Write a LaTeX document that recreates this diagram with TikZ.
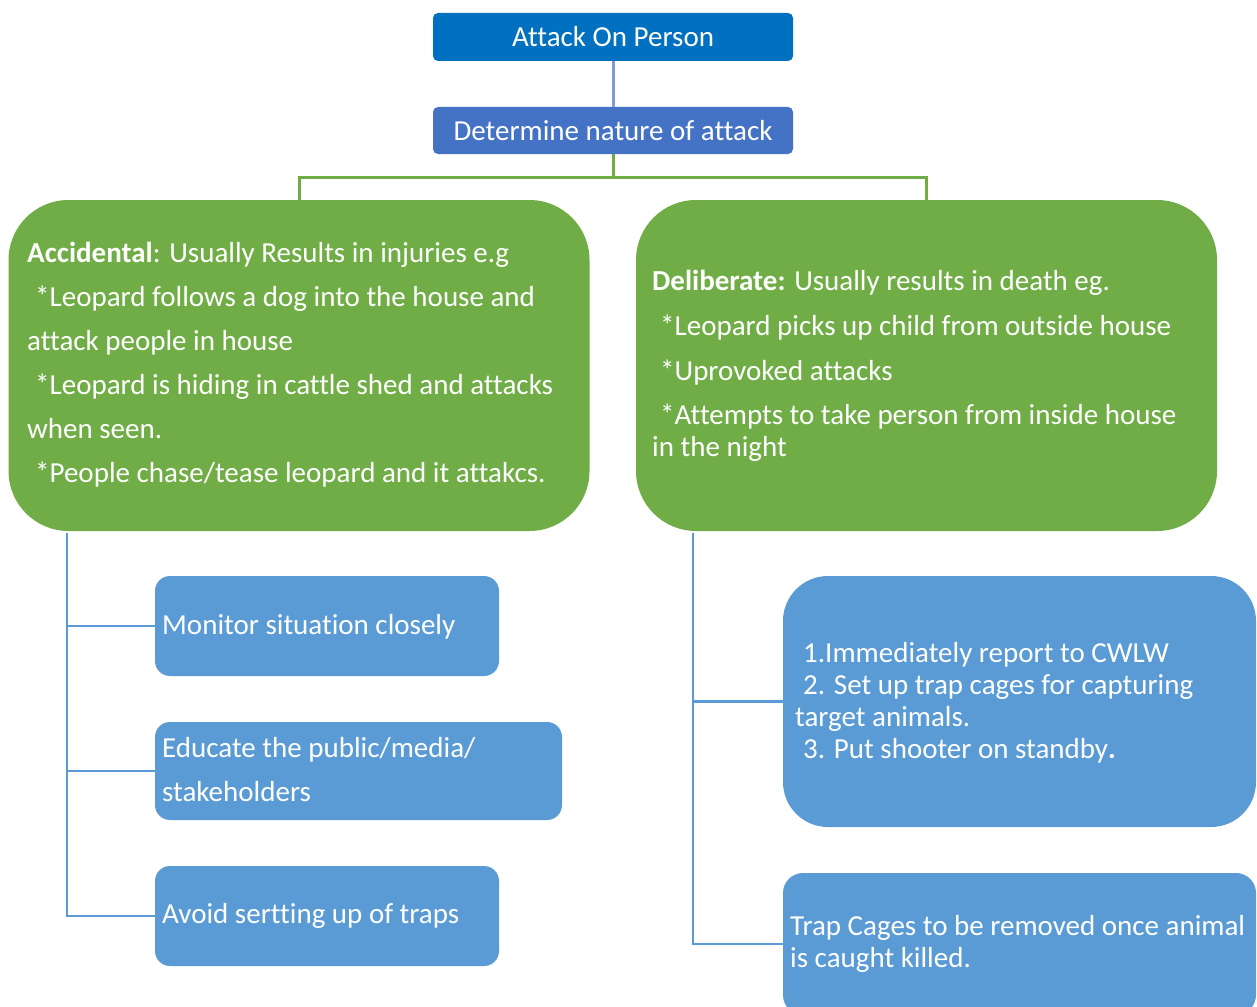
\documentclass[tikz,border=0pt]{standalone}
\usepackage{fontspec}
\setmainfont{Carlito}[Ligatures={NoCommon}]
\definecolor{topblue}{HTML}{0070C0}
\definecolor{detblue}{HTML}{4472C4}
\definecolor{lineblue}{HTML}{7F9BD8}
\definecolor{leafgreen}{HTML}{70AD47}
\definecolor{skyblue}{HTML}{5B9BD5}
\begin{document}
\begin{tikzpicture}[x=1pt,y=-1pt,
  box/.style={draw=none,inner sep=0pt,text=white,font=\fontsize{29}{34}\selectfont},
  topbox/.style={box,fill=topblue,rounded corners=5pt,minimum width=360pt,minimum height=48pt},
  detbox/.style={box,fill=detblue,rounded corners=5pt,minimum width=360pt,minimum height=47pt},
  greenbox/.style={box,fill=leafgreen,rounded corners=60pt,minimum width=581pt,minimum height=331pt},
  bluebox/.style={box,fill=skyblue,rounded corners=15pt},
  txt/.style={inner sep=0pt,text=white,font=\fontsize{29}{34}\selectfont,anchor=base west},
  gline/.style={draw=leafgreen,line width=3pt},
  bline/.style={draw=skyblue,line width=2.5pt},
]
\useasboundingbox (0,0) rectangle (1257,1006);
\fill[white] (0,0) rectangle (1257,1006);

% top boxes
\node[topbox] (top) at (613,37) {Attack On Person};
\node[detbox] (det) at (613,130.5) {Determine nature of attack};
\draw[draw=lineblue,line width=3pt] (top.south) -- (det.north);

% green boxes
\node[greenbox] (acc) at (299,365.5) {};
\node[greenbox] (del) at (926.5,365.5) {};
\coordinate (gj) at (613,177);
\draw[gline] (det.south) -- (gj) -| (acc.north);
\draw[gline] (gj) -| (del.north);

\node[txt] (acc1) at (27,262) {\textbf{Accidental}: Usually Results in injuries e.g};
\node[txt] (acc2) at (35,306) {*Leopard follows a dog into the house and};
\node[txt] (acc3) at (27,350) {attack people in house};
\node[txt] (acc4) at (35,394) {*Leopard is hiding in cattle shed and attacks};
\node[txt] (acc5) at (27,438) {when seen.};
\node[txt] (acc6) at (35,482) {*People chase/tease leopard and it attakcs.};

\node[txt] (del1) at (652,290) {\textbf{Deliberate:} Usually results in death eg.};
\node[txt] (del2) at (660,335) {*Leopard picks up child from outside house};
\node[txt] (del3) at (660,380) {*Uprovoked attacks};
\node[txt] (del4) at (660,424) {*Attempts to take person from inside house};
\node[txt] (del5) at (652,456) {in the night};

% left blue boxes
\node[bluebox,minimum width=344pt,minimum height=100pt] (mon) at (327,626) {};
\node[bluebox,minimum width=407pt,minimum height=98pt] (edu) at (358.5,771) {};
\node[bluebox,minimum width=344pt,minimum height=100pt] (avo) at (327,916) {};
\node[txt] (mon1) at (162,634) {Monitor situation closely};
\node[txt] (edu1) at (162,757) {Educate the public/media/};
\node[txt] (edu2) at (162,801) {stakeholders};
\node[txt] (avo1) at (162,923) {Avoid sertting up of traps};

\coordinate (lt) at (67,533);
\draw[bline] (lt) |- (mon.west);
\draw[bline] (lt) |- (edu.west);
\draw[bline] (lt) |- (avo.west);

% right blue boxes
\node[bluebox,rounded corners=45pt,minimum width=473pt,minimum height=251pt] (act) at (1019.5,701.5) {};
\node[bluebox,rounded corners=20pt,minimum width=473pt,minimum height=142pt] (rem) at (1019.5,944) {};
\node[txt] (act1) at (803,662) {1.Immediately report to CWLW};
\node[txt] (act2) at (803,694) {2. Set up trap cages for capturing};
\node[txt] (act3) at (795,726) {target animals.};
\node[txt] (act4) at (803,758) {3. Put shooter on standby\textbf{.}};
\node[txt] (rem1) at (790,935) {Trap Cages to be removed once animal};
\node[txt] (rem2) at (790,967) {is caught killed.};

\coordinate (rt) at (693,533);
\draw[bline] (rt) |- (act.west);
\draw[bline] (rt) |- (rem.west);
\end{tikzpicture}
\end{document}
